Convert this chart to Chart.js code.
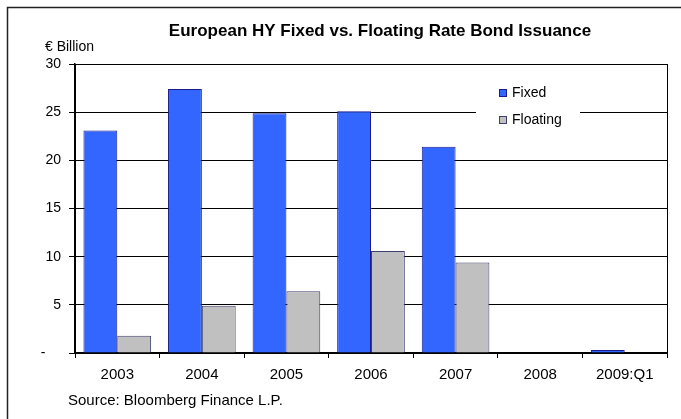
<!DOCTYPE html>
<html>
<head>
<meta charset="utf-8">
<title>European HY Fixed vs. Floating Rate Bond Issuance</title>
<script src="https://cdn.jsdelivr.net/npm/chart.js@4.4.1/dist/chart.umd.min.js"></script>
<style>
    body { margin: 0; background: #ffffff; }
    #wrap { width: 681px; height: 419px; }
</style>
</head>
<body>
<div id="wrap"><canvas id="mainChart" width="681" height="419"></canvas></div>
<script>
const years = ['2003', '2004', '2005', '2006', '2007', '2008', '2009:Q1'];
const fixedValues = [23.1, 27.4, 24.9, 25.1, 21.4, 0, 0.3];
const floatingValues = [1.8, 4.9, 6.4, 10.6, 9.4, 0, 0];
const yTicks = [0, 5, 10, 15, 20, 25, 30];

const titleText = 'European HY Fixed vs. Floating Rate Bond Issuance';
const unitText = '€ Billion';
const sourceText = 'Source: Bloomberg Finance L.P.';

const fontName = '"Liberation Sans", Arial, sans-serif';
let mainChart;

// frame, title, unit label, source and the little legend box
const extras = {
    id: 'extras',
    beforeDraw(chart) {
        const ctx = chart.ctx;
        ctx.save();
        ctx.fillStyle = '#ffffff';
        ctx.fillRect(0, 0, chart.width, chart.height);
        ctx.strokeStyle = '#222222';
        ctx.lineWidth = 1.5;
        ctx.strokeRect(7.5, 7.5, 720, 480);

        ctx.fillStyle = '#000000';
        ctx.textBaseline = 'middle';
        ctx.textAlign = 'center';
        ctx.font = 'bold 17px ' + fontName;
        ctx.fillText(titleText, 380, 31);

        ctx.textAlign = 'left';
        ctx.font = '14px ' + fontName;
        ctx.fillText(unitText, 45, 47);
        ctx.font = '15px ' + fontName;
        ctx.fillText(sourceText, 68, 401);
        ctx.restore();
    },
    afterDatasetsDraw(chart) {
        const ctx = chart.ctx;
        const a = chart.chartArea;
        ctx.save();
        ctx.strokeStyle = '#000000';
        ctx.lineWidth = 1;
        ctx.strokeRect(a.left + 0.5, a.top + 0.5, a.right - a.left, a.bottom - a.top);

        // legend
        ctx.fillStyle = '#ffffff';
        ctx.fillRect(476, 78, 104, 56);
        const items = chart.data.datasets;
        items.forEach((ds, i) => {
            const y = 93 + i * 27;
            ctx.fillStyle = ds.backgroundColor;
            ctx.fillRect(499.5, y - 3.5, 7, 7);
            ctx.strokeStyle = ds.borderColor;
            ctx.strokeRect(499.5, y - 3.5, 7, 7);
            ctx.fillStyle = '#000000';
            ctx.font = '14px ' + fontName;
            ctx.textAlign = 'left';
            ctx.textBaseline = 'middle';
            ctx.fillText(ds.label, 512, y);
        });
        ctx.restore();
    }
};

function dibujar() {
    const ctx = document.getElementById('mainChart').getContext('2d');

    mainChart = new Chart(ctx, {
        type: 'bar',
        data: {
            labels: years,
            datasets: [{
                label: 'Fixed',
                data: fixedValues,
                backgroundColor: '#3366ff',
                borderColor: '#1a1a8c',
                borderWidth: 1,
                categoryPercentage: 0.8,
                barPercentage: 1.0
            }, {
                label: 'Floating',
                data: floatingValues,
                backgroundColor: '#c0c0c0',
                borderColor: '#404070',
                borderWidth: 1,
                categoryPercentage: 0.8,
                barPercentage: 1.0
            }]
        },
        options: {
            responsive: false,
            animation: false,
            layout: {
                padding: { left: 0, top: 64, right: 14, bottom: 0 }
            },
            plugins: {
                legend: { display: false },
                title: { display: false },
                tooltip: { enabled: false }
            },
            scales: {
                y: {
                    min: 0,
                    max: 30,
                    afterFit: (s) => { s.width = 75; },
                    afterBuildTicks: (s) => { s.ticks = yTicks.map(v => ({ value: v })); },
                    ticks: {
                        color: '#000000',
                        padding: 8,
                        font: { family: fontName, size: 14 },
                        callback: (value) => value === 0 ? '-    ' : value
                    },
                    grid: {
                        color: '#000000',
                        lineWidth: 1,
                        tickLength: 6
                    },
                    border: { color: '#000000', width: 1.5 }
                },
                x: {
                    afterFit: (s) => { s.height = 66; },
                    ticks: {
                        color: '#000000',
                        padding: 8,
                        font: { family: fontName, size: 15 }
                    },
                    grid: {
                        offset: true,
                        drawOnChartArea: false,
                        color: '#000000',
                        tickLength: 5
                    },
                    border: { color: '#000000', width: 1.5 }
                }
            }
        },
        plugins: [extras]
    });
}

window.onload = dibujar;
</script>
</body>
</html>
